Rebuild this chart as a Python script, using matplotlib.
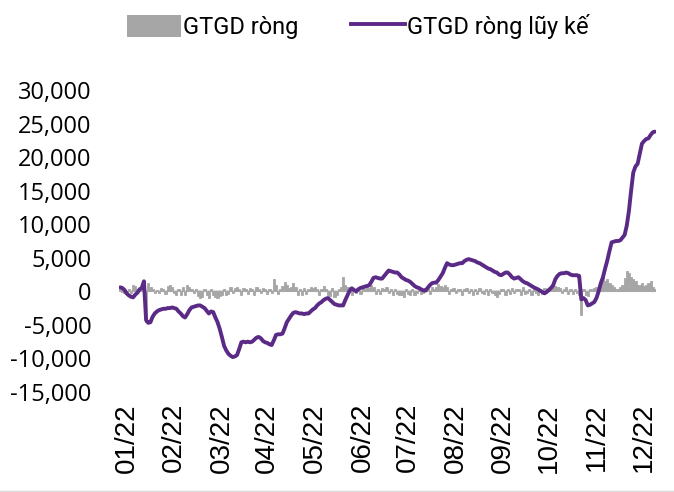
"""
plot.py -- GTGD ròng / lũy kế theo phiên, năm 2022.
"""
import numpy as np
import matplotlib
matplotlib.use("Agg")
import matplotlib.pyplot as plt
from matplotlib.lines import Line2D
from matplotlib.patches import Patch
from matplotlib.ticker import FuncFormatter, MultipleLocator

# Lũy kế GTGD ròng theo phiên (tỷ đồng)
luy_ke = [
    600, 500, 200, -300, -600, -800, -900, -500, -200, 300,
    500, 1500, -4300, -4700, -4600, -3800, -3300, -3000, -2800, -2700,
    -2600, -2600, -2500, -2500, -2400, -2500, -2600, -3000, -3300, -3700,
    -3900, -3400, -2800, -2400, -2300, -2200, -2100, -2100, -2300, -2500,
    -2900, -3300, -3000, -3100, -3900, -4600, -5600, -6800, -8100, -8800,
    -9300, -9600, -9800, -9700, -9500, -8600, -7600, -7500, -7600, -7500,
    -7600, -7500, -7200, -6900, -6800, -7000, -7400, -7600, -7700, -7900,
    -8000, -7300, -6500, -6400, -6400, -6300, -5500, -4600, -4100, -3600,
    -3200, -3100, -3200, -3300, -3300, -3400, -3300, -3300, -3000, -2700,
    -2500, -2100, -1800, -1600, -1300, -1100, -1000, -1300, -1600, -1900,
    -2000, -2100, -2100, -2100, -1300, -600, 100, 450, 200, 0,
    300, 500, 600, 700, 800, 900, 1400, 2000, 2100, 2000,
    1900, 1900, 2300, 2700, 3100, 3000, 2900, 2800, 2800, 2500,
    2100, 1900, 1700, 1600, 1400, 1100, 800, 600, 500, 300,
    150, 100, 500, 900, 1200, 1300, 1300, 1700, 2200, 2700,
    3500, 4200, 4000, 3900, 3900, 4000, 4100, 4200, 4200, 4500,
    4700, 4800, 4700, 4600, 4500, 4300, 4200, 4000, 3800, 3600,
    3400, 3300, 3100, 2900, 2800, 2500, 2400, 2600, 2800, 2800,
    2500, 2100, 1900, 2000, 2100, 1800, 1500, 1300, 1200, 1000,
    800, 600, 450, 300, 100, -100, -300, -100, 200, 500,
    900, 1800, 2300, 2600, 2700, 2700, 2800, 2700, 2500, 2400,
    2400, 2400, 2300, -1200, -1000, -1300, -2100, -2000, -1800, -1600,
    -1000, 0, 1200, 2100, 3400, 4600, 6000, 7300, 7400, 7500,
    7500, 7600, 8000, 8400, 9800, 12000, 15000, 17700, 18600, 19000,
    20500, 22000, 22400, 22700, 22800, 23300, 23700, 23800,
]

# GTGD ròng từng phiên (tỷ đồng), đọc từ các cột xám
rong = [
    600, -100, -300, -500, 300, -300, 1000, 800, 400, 500,
    400, 1000, -4600, 1300, 600, 300, -300, 200, -200, 500,
    300, -400, 800, 1000, 600, -300, -600, 400, -500, 700,
    -600, 900, 600, 400, -300, 300, -700, -1000, -800, 300,
    -600, -1000, 300, -500, -800, -1000, -700, -600, 400, -500,
    -400, 600, -300, 500, 700, 400, -600, 500, 300, -400,
    500, 300, -500, 600, 400, -300, 500, 300, -400, 400,
    -300, 1800, 900, -400, 300, 800, 1400, 1000, 500, 700,
    1300, 600, -500, 400, -600, 500, -400, 300, 600, 500,
    700, 400, -500, 300, 800, 400, -600, -700, 500, -800,
    -500, 400, 700, 2100, 900, 600, 700, -500, 400, -300,
    500, -400, 600, 300, 800, 500, 900, 600, -400, 300,
    -400, 500, 400, 600, -300, 400, -500, 300, -400, -600,
    -500, -800, 300, -400, -600, 400, -500, -300, 300, -400,
    -300, 400, 500, -400, 600, 300, 700, 1100, 800, 600,
    900, 700, -400, 300, 500, -300, 400, 300, -500, 400,
    500, -300, 400, -500, 300, -400, 500, -300, -400, 300,
    -500, 400, -300, -600, -800, -400, 300, 400, -500, 300,
    -400, 500, -300, 400, 300, -600, 700, -400, -300, 300,
    -500, 400, -300, -600, 300, -400, 500, 300, 500, 400,
    600, 800, 600, 500, -300, 400, 600, -400, 300, -400,
    300, -300, -500, -3600, 400, -600, -700, 300, 400, 500,
    600, 900, 1200, 2100, 1500, 1800, 1300, 1000, 700, 400,
    300, 600, 1000, 2000, 3100, 2700, 2200, 1800, 1600, 900,
    1000, 1200, 800, 900, 1200, 1500, 600, 300,
]

thang = ["01/22", "02/22", "03/22", "04/22", "05/22", "06/22",
         "07/22", "08/22", "09/22", "10/22", "11/22", "12/22"]
vi_tri_thang = [3, 25, 47, 68, 90, 112, 133, 155, 177, 198, 220, 242]

TIM = "#5B2A86"
XAM = "#A6A6A6"

fig = plt.figure(figsize=(6.74, 4.92), dpi=100)
ax = fig.add_axes([0.1766, 0.2033, 0.7967, 0.6137])

x = np.arange(len(luy_ke))
ax.bar(x, rong, width=1.0, color=XAM, edgecolor=XAM, linewidth=0.6, zorder=2)
ax.axhline(0, color="#D9D9D9", linewidth=1.6, zorder=1)
ax.plot(x, luy_ke, color=TIM, linewidth=2.8, solid_capstyle="round",
        solid_joinstyle="round", zorder=3)

ax.set_xlim(-0.5, len(luy_ke) - 0.5)
ax.set_ylim(-15000, 30000)
ax.yaxis.set_major_locator(MultipleLocator(5000))
ax.yaxis.set_major_formatter(FuncFormatter(lambda v, p: f"{v:,.0f}"))
ax.set_xticks(vi_tri_thang)
ax.set_xticklabels(thang, rotation=90, fontsize=20, family="Liberation Sans")
for lbl in ax.get_yticklabels():
    lbl.set_family("Open Sans")
    lbl.set_fontsize(17)
ax.tick_params(axis="both", length=0)
ax.tick_params(axis="y", pad=20)
ax.tick_params(axis="x", pad=8)
for spine in ax.spines.values():
    spine.set_visible(False)

handles = [Patch(facecolor=XAM, edgecolor="none"),
           Line2D([], [], color=TIM, linewidth=2.8)]
fig.legend(handles, ["GTGD ròng", "GTGD ròng lũy kế"], ncol=2,
           loc="upper center", bbox_to_anchor=(0.531, 1.015), frameon=False,
           prop={"family": ["Liberation Sans Narrow", "Roboto"], "size": 17},
           handlelength=2.3, handleheight=1.1, handletextpad=0.1,
           columnspacing=2.2)

fig.add_artist(Line2D([0, 1], [0.003, 0.003], color="#D9D9D9", linewidth=1.0))

fig.savefig("out.png", dpi=100)
